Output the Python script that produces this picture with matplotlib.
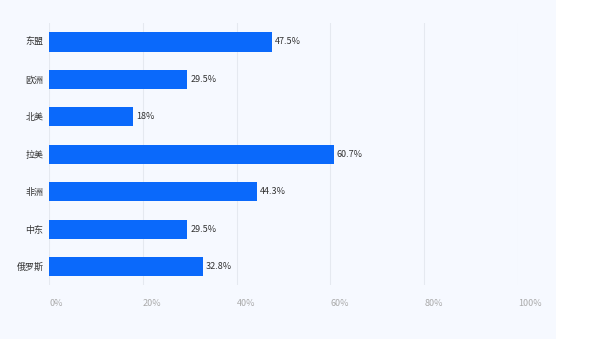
import matplotlib
matplotlib.use("Agg")
import matplotlib.pyplot as plt
from matplotlib.patches import Rectangle

plt.rcParams['font.family'] = ['Noto Sans CJK SC', 'DejaVu Sans']

regions = ["东盟", "欧洲", "北美", "拉美", "非洲", "中东", "俄罗斯"]
values = [47.5, 29.5, 18, 60.7, 44.3, 29.5, 32.8]
labels = ["47.5%", "29.5%", "18%", "60.7%", "44.3%", "29.5%", "32.8%"]
xticks = [0, 20, 40, 60, 80, 100]

BG = "#f6f9ff"
BAR = "#0a69fb"

fig = plt.figure(figsize=(5.95, 3.39), dpi=100, facecolor="white")
fig.patches.append(Rectangle((0, 0), 556 / 595, 1, transform=fig.transFigure,
                             facecolor=BG, edgecolor="none", zorder=-10))
ax = fig.add_axes([49 / 595, 53.75 / 339, 469 / 595, 262 / 339])
ax.set_facecolor(BG)

ypos = list(range(len(regions)))
ax.barh(ypos, values, height=0.51, color=BAR, zorder=3)
for y, v, t in zip(ypos, values, labels):
    ax.text(v + 0.6, y, t, va="center", ha="left", fontsize=6.5, color="#333333")

ax.set_ylim(len(regions) - 0.5, -0.5)
ax.set_xlim(0, 100)
ax.set_yticks(ypos)
ax.set_yticklabels(regions, fontsize=6.5, color="#333333")
ax.set_xticks(xticks)
ax.set_xticklabels([f"{x}%" for x in xticks], fontsize=6.5, color="#aaaaaa", ha="left")
ax.tick_params(axis="both", length=0)
ax.tick_params(axis="y", pad=4)
ax.tick_params(axis="x", pad=10)
ax.grid(axis="x", color="#e5e9f0", lw=0.8, zorder=0)
for s in ax.spines.values():
    s.set_visible(False)

fig.savefig("out.png", dpi=100, facecolor="white")
